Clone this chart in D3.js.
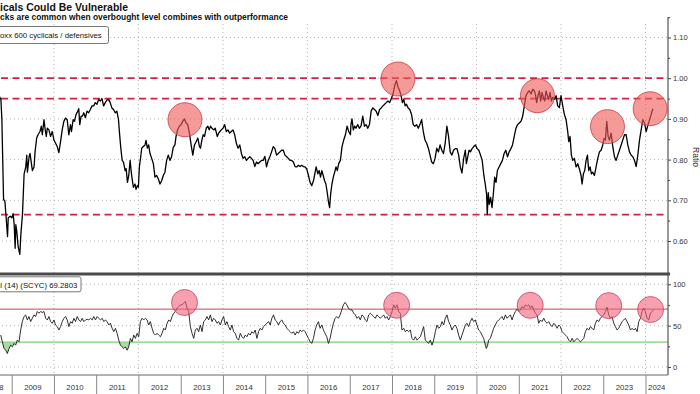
<!DOCTYPE html>
<html>
<head>
<meta charset="utf-8">
<script src="https://cdn.jsdelivr.net/npm/d3@7/dist/d3.min.js"></script>
<style>
  body { margin: 0; background: #fff; }
  svg { display: block; font-family: "Liberation Sans", Arial, sans-serif; }
</style>
</head>
<body>
<svg id="chart" width="700" height="394"></svg>
<script>
// ** data (x = decimal year) **

// Stoxx 600 cyclicals / defensives ratio
const ratioSeries = [
  [2008.700,0.957],[2008.745,0.948],[2008.768,0.898],[2008.808,0.702],[2008.839,0.698],[2008.863,0.665],[2008.902,0.611],[2008.918,0.657],[2008.965,0.661],[2009.004,0.657],
  [2009.035,0.667],[2009.059,0.640],[2009.082,0.582],[2009.098,0.640],[2009.121,0.623],[2009.153,0.586],[2009.192,0.567],[2009.216,0.615],[2009.255,0.665],[2009.294,0.765],
  [2009.333,0.782],[2009.357,0.811],[2009.372,0.769],[2009.412,0.807],[2009.435,0.815],[2009.467,0.790],[2009.490,0.773],[2009.529,0.782],[2009.553,0.819],[2009.592,0.853],
  [2009.623,0.861],[2009.670,0.869],[2009.702,0.882],[2009.725,0.861],[2009.765,0.898],[2009.788,0.877],[2009.819,0.857],[2009.843,0.877],[2009.882,0.873],[2009.921,0.857],
  [2009.961,0.869],[2010.000,0.848],[2010.039,0.840],[2010.078,0.832],[2010.117,0.817],[2010.157,0.844],[2010.196,0.873],[2010.235,0.894],[2010.274,0.902],[2010.314,0.898],
  [2010.353,0.861],[2010.392,0.886],[2010.416,0.869],[2010.455,0.898],[2010.486,0.894],[2010.525,0.911],[2010.565,0.919],[2010.588,0.925],[2010.612,0.886],[2010.643,0.907],
  [2010.675,0.907],[2010.706,0.915],[2010.745,0.903],[2010.784,0.919],[2010.823,0.915],[2010.863,0.923],[2010.902,0.932],[2010.941,0.932],[2010.980,0.940],[2011.019,0.936],
  [2011.059,0.948],[2011.098,0.944],[2011.137,0.950],[2011.176,0.932],[2011.216,0.940],[2011.255,0.946],[2011.294,0.948],[2011.333,0.940],[2011.372,0.927],[2011.412,0.923],
  [2011.451,0.915],[2011.490,0.919],[2011.529,0.898],[2011.553,0.865],[2011.584,0.828],[2011.616,0.798],[2011.647,0.794],[2011.686,0.773],[2011.710,0.778],[2011.741,0.744],
  [2011.772,0.761],[2011.804,0.798],[2011.827,0.773],[2011.858,0.748],[2011.882,0.732],[2011.921,0.740],[2011.945,0.727],[2011.976,0.736],[2012.000,0.732],[2012.023,0.782],
  [2012.055,0.807],[2012.078,0.828],[2012.117,0.832],[2012.157,0.836],[2012.180,0.847],[2012.212,0.828],[2012.243,0.836],[2012.274,0.815],[2012.314,0.803],[2012.353,0.790],
  [2012.392,0.757],[2012.431,0.761],[2012.470,0.753],[2012.510,0.740],[2012.549,0.748],[2012.588,0.761],[2012.627,0.769],[2012.667,0.798],[2012.706,0.811],[2012.745,0.798],
  [2012.784,0.807],[2012.823,0.830],[2012.863,0.836],[2012.889,0.857],[2012.928,0.874],[2012.968,0.882],[2013.008,0.886],[2013.047,0.894],[2013.087,0.900],[2013.127,0.890],
  [2013.166,0.886],[2013.206,0.865],[2013.246,0.836],[2013.286,0.811],[2013.325,0.836],[2013.365,0.844],[2013.405,0.853],[2013.444,0.832],[2013.468,0.828],[2013.500,0.848],
  [2013.532,0.861],[2013.563,0.857],[2013.603,0.877],[2013.643,0.882],[2013.674,0.873],[2013.706,0.882],[2013.738,0.877],[2013.786,0.873],[2013.817,0.877],[2013.865,0.857],
  [2013.897,0.865],[2013.928,0.869],[2013.960,0.873],[2014.000,0.877],[2014.040,0.886],[2014.079,0.869],[2014.119,0.873],[2014.159,0.865],[2014.198,0.869],[2014.238,0.873],
  [2014.278,0.861],[2014.317,0.840],[2014.357,0.828],[2014.397,0.836],[2014.437,0.815],[2014.476,0.803],[2014.516,0.807],[2014.556,0.798],[2014.595,0.803],[2014.635,0.807],
  [2014.675,0.803],[2014.714,0.798],[2014.754,0.783],[2014.794,0.794],[2014.833,0.790],[2014.873,0.794],[2014.913,0.798],[2014.952,0.798],[2014.992,0.808],[2015.032,0.782],
  [2015.071,0.798],[2015.111,0.807],[2015.151,0.819],[2015.190,0.832],[2015.230,0.827],[2015.270,0.811],[2015.310,0.815],[2015.349,0.819],[2015.389,0.823],[2015.429,0.823],
  [2015.468,0.811],[2015.508,0.807],[2015.548,0.803],[2015.587,0.798],[2015.627,0.798],[2015.667,0.794],[2015.706,0.783],[2015.746,0.782],[2015.786,0.786],[2015.825,0.783],
  [2015.865,0.786],[2015.905,0.783],[2015.944,0.782],[2015.984,0.777],[2016.024,0.761],[2016.063,0.744],[2016.103,0.736],[2016.143,0.748],[2016.182,0.769],[2016.206,0.782],
  [2016.246,0.765],[2016.278,0.773],[2016.309,0.757],[2016.341,0.773],[2016.373,0.761],[2016.405,0.748],[2016.436,0.740],[2016.468,0.719],[2016.500,0.694],[2016.524,0.682],
  [2016.548,0.715],[2016.579,0.740],[2016.611,0.757],[2016.643,0.769],[2016.675,0.782],[2016.706,0.773],[2016.738,0.790],[2016.778,0.798],[2016.817,0.832],[2016.857,0.848],
  [2016.897,0.861],[2016.937,0.882],[2016.976,0.869],[2017.016,0.861],[2017.028,0.886],[2017.052,0.900],[2017.084,0.873],[2017.115,0.882],[2017.147,0.877],[2017.187,0.886],
  [2017.227,0.877],[2017.267,0.883],[2017.307,0.907],[2017.347,0.882],[2017.386,0.886],[2017.426,0.877],[2017.466,0.886],[2017.506,0.919],[2017.546,0.927],[2017.586,0.923],
  [2017.625,0.919],[2017.665,0.908],[2017.705,0.923],[2017.745,0.927],[2017.785,0.932],[2017.825,0.936],[2017.864,0.940],[2017.904,0.944],[2017.944,0.940],[2017.984,0.950],
  [2018.024,0.961],[2018.064,0.982],[2018.104,0.994],[2018.143,0.978],[2018.183,0.969],[2018.223,0.953],[2018.247,0.940],[2018.279,0.948],[2018.311,0.932],[2018.343,0.936],
  [2018.382,0.927],[2018.422,0.923],[2018.462,0.911],[2018.502,0.886],[2018.542,0.882],[2018.582,0.886],[2018.622,0.877],[2018.661,0.886],[2018.701,0.898],[2018.741,0.869],
  [2018.781,0.848],[2018.821,0.840],[2018.861,0.828],[2018.900,0.811],[2018.940,0.794],[2018.980,0.790],[2019.020,0.803],[2019.060,0.828],[2019.100,0.819],[2019.139,0.836],
  [2019.179,0.823],[2019.219,0.815],[2019.259,0.840],[2019.299,0.882],[2019.339,0.857],[2019.378,0.819],[2019.418,0.811],[2019.458,0.823],[2019.498,0.827],[2019.538,0.827],
  [2019.578,0.811],[2019.617,0.782],[2019.657,0.767],[2019.697,0.803],[2019.737,0.823],[2019.761,0.790],[2019.793,0.807],[2019.825,0.823],[2019.857,0.819],[2019.896,0.827],
  [2019.936,0.832],[2019.976,0.836],[2020.016,0.827],[2020.056,0.823],[2020.096,0.811],[2020.135,0.798],[2020.175,0.761],[2020.207,0.740],[2020.239,0.715],[2020.255,0.665],
  [2020.279,0.719],[2020.303,0.690],[2020.335,0.707],[2020.367,0.682],[2020.398,0.715],[2020.430,0.757],[2020.462,0.744],[2020.494,0.773],[2020.534,0.782],[2020.574,0.790],
  [2020.613,0.798],[2020.653,0.815],[2020.693,0.823],[2020.733,0.807],[2020.773,0.819],[2020.813,0.827],[2020.852,0.836],[2020.892,0.857],[2020.932,0.877],[2020.972,0.886],
  [2021.012,0.890],[2021.052,0.894],[2021.092,0.907],[2021.131,0.932],[2021.170,0.957],[2021.210,0.965],[2021.249,0.969],[2021.289,0.961],[2021.329,0.973],[2021.368,0.969],
  [2021.392,0.961],[2021.423,0.940],[2021.455,0.957],[2021.487,0.969],[2021.518,0.944],[2021.550,0.965],[2021.581,0.953],[2021.613,0.944],[2021.645,0.969],[2021.676,0.957],
  [2021.708,0.948],[2021.740,0.965],[2021.771,0.944],[2021.803,0.953],[2021.842,0.948],[2021.882,0.957],[2021.921,0.932],[2021.961,0.928],[2022.000,0.957],[2022.040,0.932],
  [2022.079,0.911],[2022.119,0.898],[2022.158,0.869],[2022.182,0.844],[2022.213,0.857],[2022.245,0.811],[2022.277,0.798],[2022.316,0.803],[2022.356,0.782],[2022.395,0.790],
  [2022.435,0.777],[2022.474,0.761],[2022.498,0.740],[2022.530,0.765],[2022.561,0.773],[2022.593,0.798],[2022.625,0.811],[2022.656,0.773],[2022.688,0.782],[2022.719,0.765],
  [2022.751,0.769],[2022.791,0.761],[2022.830,0.782],[2022.870,0.803],[2022.909,0.819],[2022.949,0.823],[2022.988,0.836],[2023.020,0.852],[2023.051,0.848],[2023.083,0.894],
  [2023.115,0.857],[2023.146,0.848],[2023.186,0.865],[2023.225,0.832],[2023.265,0.807],[2023.304,0.798],[2023.344,0.811],[2023.383,0.823],[2023.423,0.836],[2023.462,0.848],
  [2023.502,0.861],[2023.542,0.861],[2023.581,0.836],[2023.621,0.819],[2023.660,0.811],[2023.700,0.807],[2023.739,0.798],[2023.779,0.783],[2023.818,0.811],[2023.858,0.848],
  [2023.897,0.873],[2023.937,0.898],[2023.976,0.890],[2024.016,0.869],[2024.055,0.884],[2024.095,0.898],[2024.134,0.911],[2024.174,0.925]
];

// RSI (14) of SCYC
const rsiSeries = [
  [2008.740,38.6],[2008.779,30.5],[2008.819,22.4],[2008.858,20.3],[2008.897,16.3],[2008.937,22.4],[2008.976,26.4],[2009.016,24.4],[2009.055,28.5],[2009.094,26.4],
  [2009.134,32.5],[2009.173,30.5],[2009.212,44.7],[2009.252,54.9],[2009.291,61.0],[2009.331,63.0],[2009.370,56.9],[2009.409,61.0],[2009.449,54.9],[2009.488,58.9],
  [2009.527,63.0],[2009.567,61.0],[2009.606,67.1],[2009.646,65.0],[2009.685,67.1],[2009.724,65.9],[2009.764,67.1],[2009.803,58.9],[2009.842,56.9],[2009.882,61.0],
  [2009.921,54.9],[2009.961,52.9],[2010.000,56.9],[2010.039,50.8],[2010.079,48.8],[2010.118,44.7],[2010.157,48.8],[2010.197,54.9],[2010.236,58.9],[2010.276,61.0],
  [2010.315,56.9],[2010.354,48.8],[2010.394,54.9],[2010.433,52.9],[2010.472,58.9],[2010.512,54.9],[2010.551,61.0],[2010.591,56.9],[2010.630,54.9],[2010.669,58.9],
  [2010.709,54.9],[2010.748,56.9],[2010.787,57.7],[2010.827,56.9],[2010.866,58.9],[2010.906,56.9],[2010.945,61.0],[2010.984,56.9],[2011.024,61.0],[2011.063,58.9],
  [2011.102,56.9],[2011.142,58.9],[2011.181,54.9],[2011.220,56.9],[2011.260,54.9],[2011.299,50.8],[2011.339,52.9],[2011.378,46.8],[2011.417,42.7],[2011.457,46.8],
  [2011.496,40.7],[2011.535,32.5],[2011.575,26.4],[2011.614,24.4],[2011.654,22.4],[2011.693,24.4],[2011.732,20.3],[2011.772,24.4],[2011.811,34.6],[2011.850,30.5],
  [2011.890,38.6],[2011.929,34.6],[2011.969,40.7],[2012.008,36.6],[2012.047,54.9],[2012.087,58.9],[2012.126,56.9],[2012.165,58.9],[2012.205,56.9],[2012.244,50.8],
  [2012.283,54.9],[2012.323,46.8],[2012.362,40.7],[2012.402,38.6],[2012.441,40.7],[2012.480,38.6],[2012.520,36.6],[2012.559,40.7],[2012.598,46.8],[2012.638,44.7],
  [2012.677,52.9],[2012.717,56.9],[2012.756,54.9],[2012.795,61.0],[2012.835,65.0],[2012.874,67.1],[2012.913,71.1],[2012.953,73.2],[2012.992,75.2],[2013.031,75.2],
  [2013.071,77.2],[2013.110,79.3],[2013.150,71.1],[2013.189,67.1],[2013.228,48.8],[2013.268,40.7],[2013.307,34.6],[2013.346,44.7],[2013.386,46.8],[2013.425,42.7],
  [2013.465,50.8],[2013.504,42.7],[2013.543,54.9],[2013.583,56.9],[2013.622,61.0],[2013.661,56.9],[2013.701,63.0],[2013.740,54.9],[2013.780,58.9],[2013.819,56.9],
  [2013.858,52.9],[2013.898,54.9],[2013.937,50.8],[2013.976,56.9],[2014.016,61.0],[2014.055,50.8],[2014.094,54.9],[2014.134,48.8],[2014.173,44.7],[2014.213,50.8],
  [2014.252,42.7],[2014.291,40.7],[2014.331,34.6],[2014.370,32.5],[2014.409,40.7],[2014.449,36.6],[2014.488,34.6],[2014.528,38.6],[2014.567,36.6],[2014.606,40.7],
  [2014.646,38.6],[2014.685,42.7],[2014.724,40.7],[2014.764,44.7],[2014.803,34.6],[2014.843,42.7],[2014.882,46.8],[2014.921,44.7],[2014.961,48.8],[2015.000,50.8],
  [2015.039,52.9],[2015.079,54.9],[2015.118,50.8],[2015.157,58.9],[2015.197,63.0],[2015.236,56.9],[2015.276,54.9],[2015.315,50.8],[2015.354,54.9],[2015.394,56.9],
  [2015.433,52.9],[2015.472,50.8],[2015.512,46.8],[2015.551,44.7],[2015.591,42.7],[2015.630,40.7],[2015.669,42.7],[2015.709,38.6],[2015.748,42.7],[2015.787,40.7],
  [2015.827,44.7],[2015.866,42.7],[2015.906,44.7],[2015.945,42.7],[2015.984,38.6],[2016.024,34.6],[2016.063,30.5],[2016.102,28.5],[2016.142,34.6],[2016.181,44.7],
  [2016.220,50.8],[2016.260,54.9],[2016.299,46.8],[2016.339,50.8],[2016.378,44.7],[2016.417,40.7],[2016.457,36.6],[2016.496,28.5],[2016.535,34.6],[2016.575,44.7],
  [2016.614,52.9],[2016.654,58.9],[2016.693,61.0],[2016.732,58.9],[2016.772,63.0],[2016.811,69.1],[2016.850,75.2],[2016.890,78.1],[2016.929,75.2],[2016.969,71.1],
  [2017.008,69.1],[2017.052,69.1],[2017.092,65.0],[2017.131,63.0],[2017.171,58.9],[2017.210,61.0],[2017.250,56.9],[2017.289,63.0],[2017.329,61.0],[2017.368,56.9],
  [2017.408,54.9],[2017.447,63.0],[2017.487,65.0],[2017.526,63.0],[2017.566,61.0],[2017.605,58.9],[2017.644,63.0],[2017.684,61.0],[2017.723,58.9],[2017.763,61.0],
  [2017.802,63.0],[2017.842,58.9],[2017.881,61.0],[2017.921,56.9],[2017.960,61.0],[2018.000,67.1],[2018.039,75.2],[2018.079,71.1],[2018.118,75.2],[2018.158,67.1],
  [2018.197,65.0],[2018.236,44.7],[2018.276,46.8],[2018.315,42.7],[2018.355,44.7],[2018.394,42.7],[2018.434,44.7],[2018.473,34.6],[2018.513,32.5],[2018.552,36.6],
  [2018.592,32.5],[2018.631,34.6],[2018.671,36.6],[2018.710,42.7],[2018.749,48.8],[2018.789,32.5],[2018.828,30.5],[2018.868,28.5],[2018.907,32.5],[2018.947,26.4],
  [2018.986,32.5],[2019.026,42.7],[2019.065,50.8],[2019.105,46.8],[2019.144,48.8],[2019.184,54.9],[2019.223,50.8],[2019.262,58.9],[2019.302,63.0],[2019.341,54.9],
  [2019.381,50.8],[2019.420,44.7],[2019.460,48.8],[2019.499,50.8],[2019.539,46.8],[2019.578,38.6],[2019.618,32.5],[2019.657,38.6],[2019.697,44.7],[2019.736,50.8],
  [2019.775,52.9],[2019.815,48.8],[2019.854,54.9],[2019.894,58.9],[2019.933,54.9],[2019.973,56.9],[2020.012,50.8],[2020.052,44.7],[2020.091,42.7],[2020.131,38.6],
  [2020.170,34.6],[2020.210,26.4],[2020.233,22.4],[2020.265,26.4],[2020.288,32.5],[2020.328,34.6],[2020.367,40.7],[2020.407,46.8],[2020.446,50.8],[2020.486,54.9],
  [2020.525,56.9],[2020.565,58.9],[2020.604,61.0],[2020.644,56.9],[2020.683,63.0],[2020.723,58.9],[2020.762,61.0],[2020.801,63.0],[2020.841,56.9],[2020.880,63.0],
  [2020.920,67.1],[2020.959,69.9],[2020.999,67.1],[2021.038,69.1],[2021.078,73.2],[2021.117,71.1],[2021.157,75.2],[2021.196,73.2],[2021.236,75.2],[2021.275,71.1],
  [2021.315,74.0],[2021.354,69.1],[2021.393,65.0],[2021.433,63.0],[2021.472,52.9],[2021.512,56.9],[2021.551,54.9],[2021.591,58.9],[2021.630,54.9],[2021.670,52.9],
  [2021.709,54.9],[2021.749,50.8],[2021.788,48.8],[2021.828,52.9],[2021.867,50.8],[2021.906,46.8],[2021.946,50.8],[2021.985,48.8],[2022.025,42.7],[2022.064,40.7],
  [2022.104,38.6],[2022.143,36.6],[2022.183,32.5],[2022.222,30.5],[2022.262,34.6],[2022.301,30.5],[2022.340,32.5],[2022.380,34.6],[2022.419,32.5],[2022.459,30.5],
  [2022.498,32.5],[2022.538,34.6],[2022.577,42.7],[2022.617,46.8],[2022.656,44.7],[2022.696,48.8],[2022.735,46.8],[2022.775,44.7],[2022.814,52.9],[2022.853,56.9],
  [2022.893,54.9],[2022.932,58.9],[2022.972,61.0],[2023.011,63.0],[2023.051,67.1],[2023.090,72.4],[2023.130,63.0],[2023.169,58.9],[2023.209,61.0],[2023.248,52.9],
  [2023.288,48.8],[2023.327,44.7],[2023.366,46.8],[2023.406,50.8],[2023.445,54.9],[2023.485,56.9],[2023.524,58.9],[2023.564,54.9],[2023.603,50.8],[2023.643,44.7],
  [2023.682,46.8],[2023.722,44.7],[2023.761,46.8],[2023.801,42.7],[2023.840,54.9],[2023.880,58.9],[2023.919,67.1],[2023.958,71.1],[2023.998,67.1],[2024.037,58.9],
  [2024.077,56.9],[2024.116,65.0],[2024.156,67.1],[2024.195,69.28]
];

// highlighted spots (circles) in each panel
const ratioCircles = [[2013.10,0.898],[2018.14,0.998],[2021.44,0.957],[2023.10,0.881],[2024.11,0.925]];
const rsiCircles = [[2013.09,78.0],[2018.11,74.6],[2021.27,74.6],[2023.13,74.2],[2024.12,69.5]];

// levels and ticks
const ratioLevels = [1.00, 0.95, 0.665];
const ratioTicks = [0.60, 0.70, 0.80, 0.90, 1.00, 1.10];
const ratioMinorTicks = [0.65, 0.75, 0.85, 0.95, 1.05, 1.15];
const rsiTicks = [0, 50, 100];
const rsiMinorTicks = [25, 75];
const rsiUpper = 70, rsiLower = 30;
const gridYears = [2010, 2012, 2014, 2016, 2018, 2020, 2022, 2024];
const labelYears = d3.range(2008, 2025);

const title = "Cyclicals Could Be Vulnerable";
const subtitle = "Shocks are common when overbought level combines with outperformance";
const ratioLegend = "Stoxx 600 cyclicals / defensives";
const rsiLegend = "RSI (14) (SCYC) 69.2803";

// ** layout **
const svg = d3.select("#chart");
const plotLeft = -22, plotRight = 668;
const topY0 = 17, sepY = 274, bottomY = 375;

const toDate = y => {
    const yr = Math.floor(y), a = new Date(yr, 0, 1), b = new Date(yr + 1, 0, 1);
    return new Date(+a + (y - yr) * (b - a));
};

const x = d3.scaleTime()
    .domain([new Date(2009, 0, 1), new Date(2024, 0, 1)])
    .range([11.7, 645.5]);
const yTop = d3.scaleLinear().domain([0.60, 1.10]).range([241, 37.5]);
const yRsi = d3.scaleLinear().domain([0, 100]).range([367, 284.3]);

// clip paths for the two panels
const defs = svg.append("defs");
defs.append("clipPath").attr("id", "clipTop").append("rect")
    .attr("x", plotLeft).attr("y", topY0).attr("width", plotRight - plotLeft).attr("height", sepY - topY0);
defs.append("clipPath").attr("id", "clipRsi").append("rect")
    .attr("x", plotLeft).attr("y", sepY).attr("width", plotRight - plotLeft).attr("height", bottomY - sepY);
defs.append("clipPath").attr("id", "clipLow").append("rect")
    .attr("x", plotLeft).attr("y", yRsi(rsiLower)).attr("width", plotRight - plotLeft).attr("height", bottomY - yRsi(rsiLower));

// dotted grid
const grid = svg.append("g")
    .attr("stroke", "#b4b4b4").attr("stroke-width", 1).attr("stroke-dasharray", "1,3");
ratioTicks.forEach(v => grid.append("line")
    .attr("x1", plotLeft).attr("x2", plotRight).attr("y1", yTop(v)).attr("y2", yTop(v)));
rsiTicks.forEach(v => grid.append("line")
    .attr("x1", plotLeft).attr("x2", plotRight).attr("y1", yRsi(v)).attr("y2", yRsi(v)));
gridYears.forEach(yr => grid.append("line")
    .attr("x1", x(new Date(yr, 0, 1))).attr("x2", x(new Date(yr, 0, 1)))
    .attr("y1", 24).attr("y2", bottomY));

// red dashed levels
ratioLevels.forEach(v => svg.append("line")
    .attr("x1", plotLeft).attr("x2", plotRight)
    .attr("y1", yTop(v)).attr("y2", yTop(v))
    .attr("stroke", "#d81f4b").attr("stroke-width", 1.8).attr("stroke-dasharray", "7,4.5"));

// ratio line
const ratioLine = d3.line().x(d => x(toDate(d[0]))).y(d => yTop(d[1]));
svg.append("path").datum(ratioSeries)
    .attr("clip-path", "url(#clipTop)")
    .attr("d", ratioLine)
    .attr("fill", "none").attr("stroke", "#000").attr("stroke-width", 1.3)
    .attr("stroke-linejoin", "round");

svg.append("g").selectAll("circle").data(ratioCircles).join("circle")
    .attr("cx", d => x(toDate(d[0]))).attr("cy", d => yTop(d[1])).attr("r", 17)
    .attr("fill", "#ef5a5a").attr("fill-opacity", 0.62)
    .attr("stroke", "#c83c3c").attr("stroke-width", 0.8);

// RSI panel
const rsiG = svg.append("g").attr("clip-path", "url(#clipRsi)");

rsiG.append("path").datum(rsiSeries)
    .attr("clip-path", "url(#clipLow)")
    .attr("d", d3.area().x(d => x(toDate(d[0]))).y0(yRsi(rsiLower)).y1(d => yRsi(d[1])))
    .attr("fill", "#a9dca2");

rsiG.append("line")
    .attr("x1", plotLeft).attr("x2", plotRight).attr("y1", yRsi(rsiUpper)).attr("y2", yRsi(rsiUpper))
    .attr("stroke", "#c94a4a").attr("stroke-width", 1);
rsiG.append("line")
    .attr("x1", plotLeft).attr("x2", plotRight).attr("y1", yRsi(rsiLower)).attr("y2", yRsi(rsiLower))
    .attr("stroke", "#7fcf7a").attr("stroke-width", 1.2);

rsiG.append("path").datum(rsiSeries)
    .attr("d", d3.line().x(d => x(toDate(d[0]))).y(d => yRsi(d[1])))
    .attr("fill", "none").attr("stroke", "#1a1a1a").attr("stroke-width", 0.9)
    .attr("stroke-linejoin", "round");

svg.append("g").selectAll("circle").data(rsiCircles).join("circle")
    .attr("cx", d => x(toDate(d[0]))).attr("cy", d => yRsi(d[1])).attr("r", 13)
    .attr("fill", "#f2607c").attr("fill-opacity", 0.6)
    .attr("stroke", "#cc4060").attr("stroke-width", 0.8);

// frame: right spine, panel separator, bottom line
svg.append("line").attr("x1", plotRight).attr("x2", plotRight).attr("y1", topY0).attr("y2", bottomY)
    .attr("stroke", "#555").attr("stroke-width", 1.2);
svg.append("line").attr("x1", plotLeft).attr("x2", plotRight + 2).attr("y1", sepY).attr("y2", sepY)
    .attr("stroke", "#4a4a4a").attr("stroke-width", 3);
svg.append("line").attr("x1", plotLeft).attr("x2", plotRight).attr("y1", bottomY).attr("y2", bottomY)
    .attr("stroke", "#666").attr("stroke-width", 1);

// right axes
function styleAxis(g) {
    g.select(".domain").remove();
    g.attr("font-family", null).attr("font-size", 7.5);
    g.selectAll(".tick line").attr("stroke", "#444");
    g.selectAll(".tick text").attr("fill", "#333");
}
svg.append("g").attr("transform", `translate(${plotRight},0)`)
    .call(d3.axisRight(yTop).tickValues(ratioTicks).tickFormat(d3.format(".2f")).tickSize(3).tickPadding(2))
    .call(styleAxis);
svg.append("g").attr("transform", `translate(${plotRight},0)`)
    .call(d3.axisRight(yTop).tickValues(ratioMinorTicks).tickFormat("").tickSize(2))
    .call(styleAxis);
svg.append("g").attr("transform", `translate(${plotRight},0)`)
    .call(d3.axisRight(yRsi).tickValues(rsiTicks).tickSize(3).tickPadding(2))
    .call(styleAxis);
svg.append("g").attr("transform", `translate(${plotRight},0)`)
    .call(d3.axisRight(yRsi).tickValues(rsiMinorTicks).tickFormat("").tickSize(2))
    .call(styleAxis);

svg.append("text")
    .attr("transform", `translate(693,157) rotate(90)`)
    .attr("text-anchor", "middle")
    .attr("font-size", 8.5).attr("fill", "#333")
    .text("Ratio");

// bottom year axis: separators at each new year, labels centred in each year
svg.append("g").attr("transform", `translate(0,${bottomY})`)
    .call(d3.axisBottom(x).ticks(d3.timeYear.every(1)).tickFormat("").tickSize(19))
    .call(g => g.select(".domain").remove())
    .call(g => g.selectAll(".tick line").attr("stroke", "#8a8a8a"));

svg.append("g").selectAll("text").data(labelYears).join("text")
    .attr("x", yr => {
        const a = Math.max(x(new Date(yr, 0, 1)), plotLeft);
        const b = Math.min(x(new Date(yr + 1, 0, 1)), plotRight);
        return (a + b) / 2;
    })
    .attr("y", 389.5)
    .attr("text-anchor", "middle")
    .attr("font-size", 7.8).attr("fill", "#333")
    .text(yr => yr);

// the picture is cropped on the left, so these strings start off the page;
// fit the visible tail (from x = 0) to its measured width
function croppedText(full, visible, xEnd, yBase, size, weight) {
    const t = svg.append("text").attr("y", yBase)
        .attr("font-size", size).attr("font-weight", weight).attr("fill", "#111")
        .text(visible);
    const k = xEnd / t.node().getComputedTextLength();
    t.text(full);
    const w = t.node().getComputedTextLength() * k;
    t.attr("x", xEnd - w).attr("textLength", w).attr("lengthAdjust", "spacingAndGlyphs");
    return t;
}

// legend boxes
svg.append("rect").attr("x", -30).attr("y", 26.5).attr("width", 138.5).attr("height", 17).attr("rx", 2)
    .attr("fill", "#fff").attr("stroke", "#777").attr("stroke-width", 1);
croppedText(ratioLegend, "oxx 600 cyclicals / defensives", 101.7, 38, 7.8, "normal");

svg.append("rect").attr("x", -30).attr("y", 276.8).attr("width", 111).attr("height", 15).attr("rx", 2)
    .attr("fill", "#fff").attr("stroke", "#777").attr("stroke-width", 1);
croppedText(rsiLegend, "I (14) (SCYC) 69.2803", 77.3, 287.5, 7.8, "normal");

croppedText(title, "icals Could Be Vulnerable", 128, 10.5, 11, "bold");
croppedText(subtitle, "cks are common when overbought level combines with outperformance", 288, 19.8, 8.4, "bold");
</script>
</body>
</html>
